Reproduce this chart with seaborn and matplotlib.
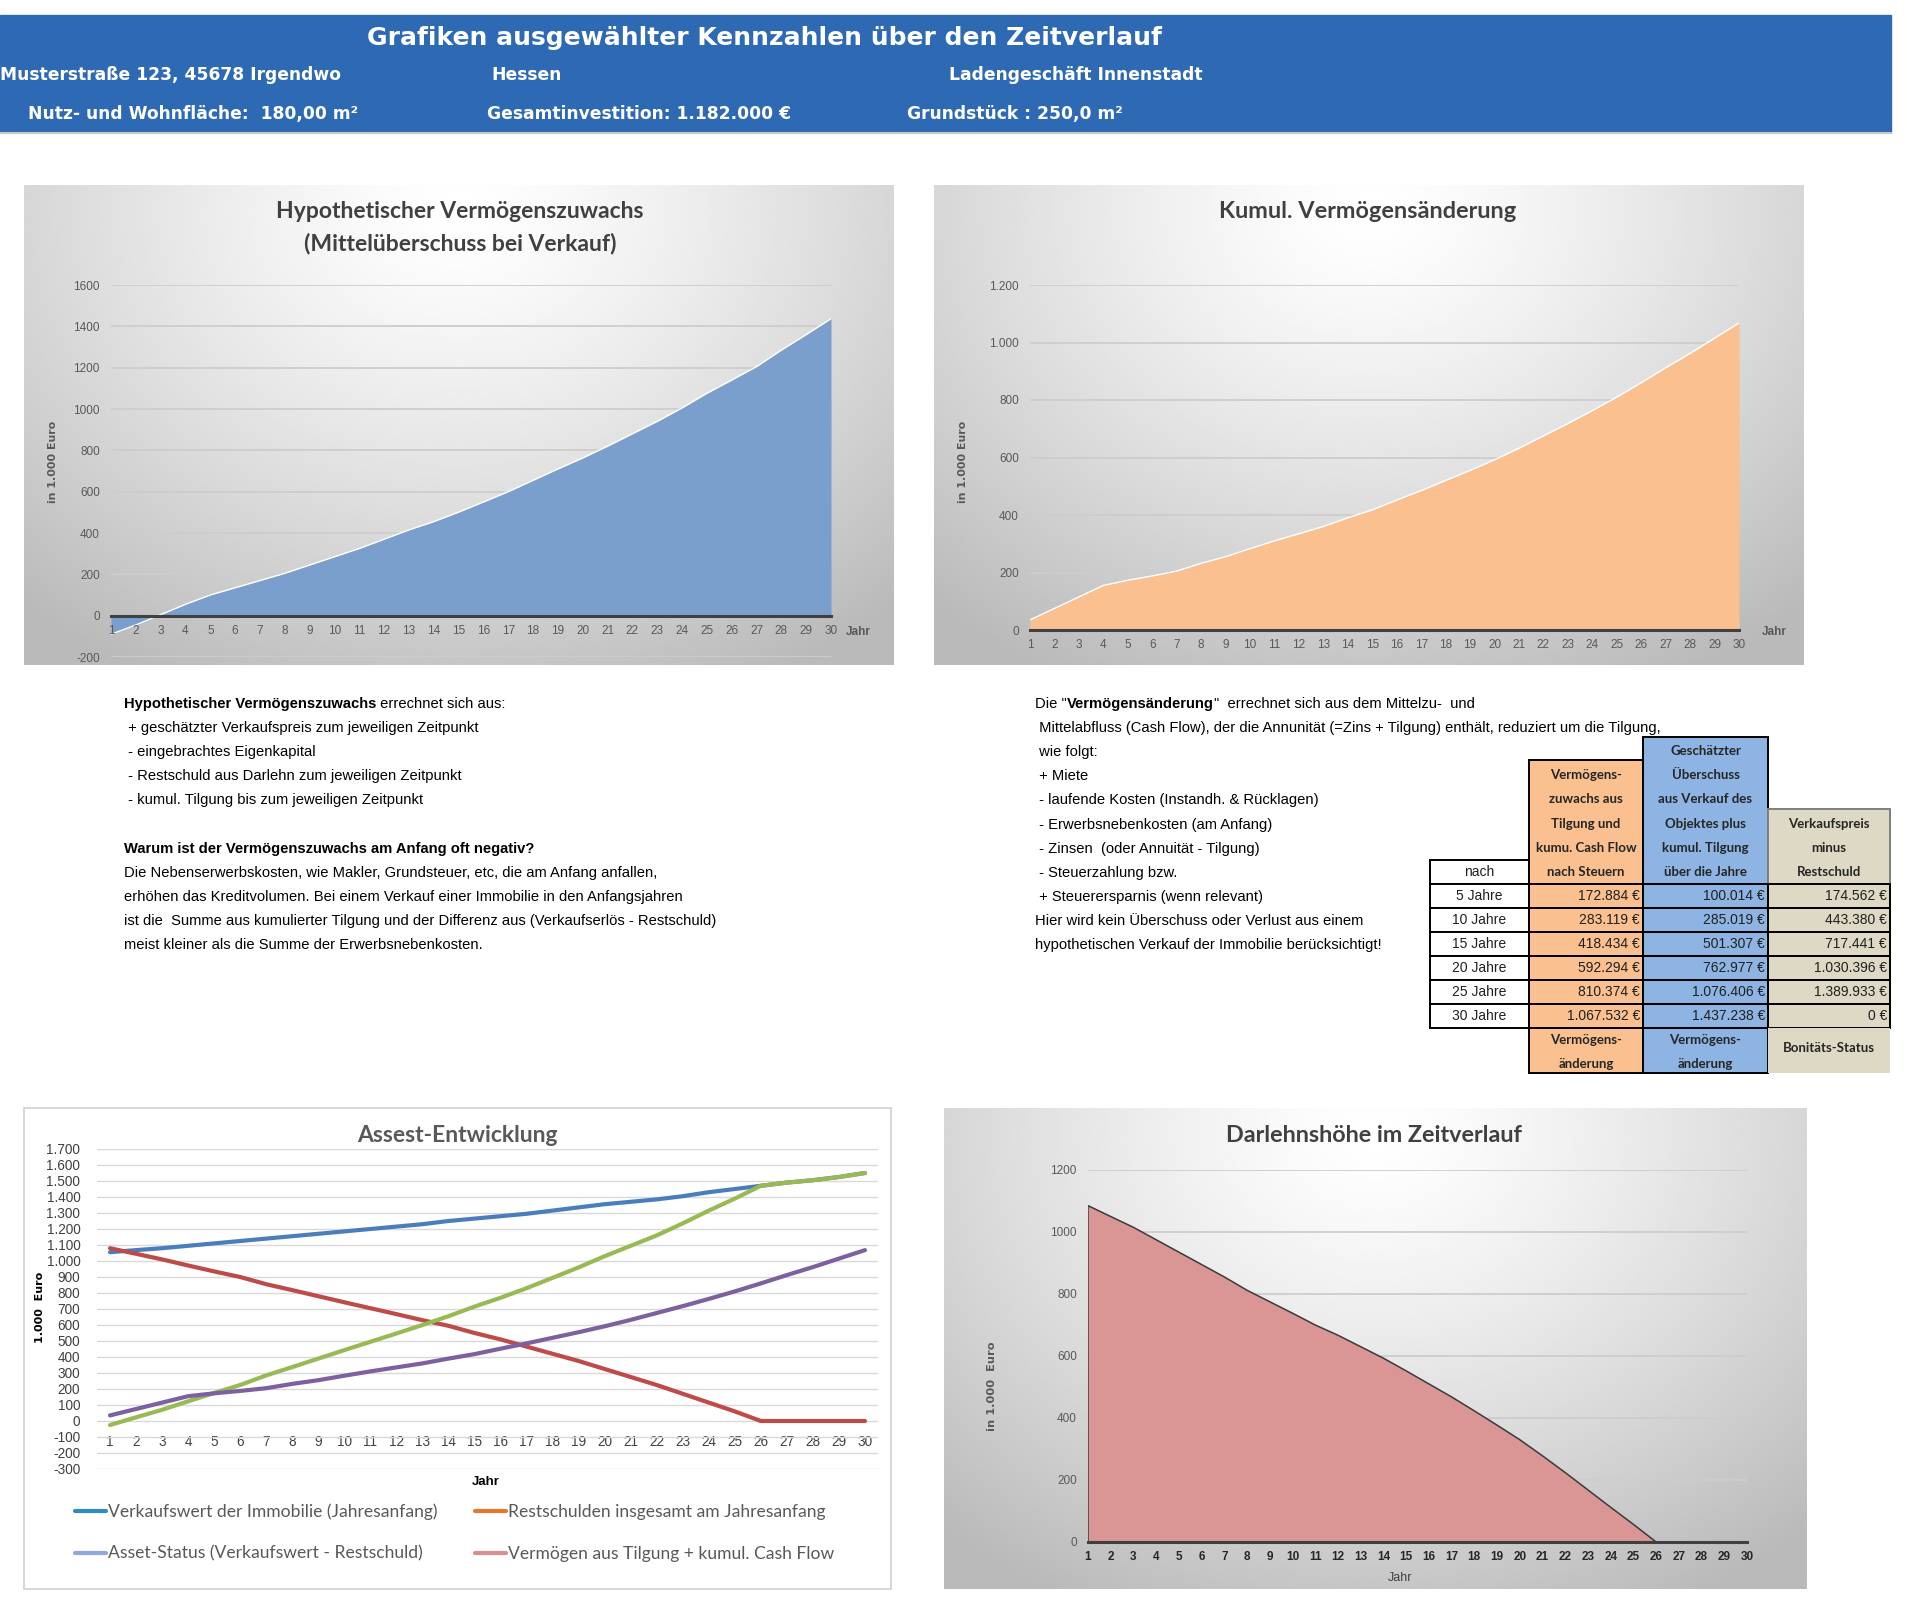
import numpy as np
import matplotlib
matplotlib.use("Agg")
import matplotlib.pyplot as plt
import seaborn as sns
from matplotlib import font_manager
from matplotlib.lines import Line2D
from matplotlib.patches import Rectangle
from matplotlib.ticker import FuncFormatter

W, H = 1907, 1612

# ---- data (in 1.000 Euro) ----
jahre = list(range(1, 31))
mittelueberschuss = [-90, -45, 5, 55, 100, 135, 170, 205, 245, 285, 325, 370, 415, 455, 501,
                     550, 600, 655, 710, 763, 820, 880, 940, 1005, 1076, 1140, 1205, 1285, 1360, 1437]
verm_aenderung = [35, 75, 115, 155, 173, 188, 205, 232, 255, 283, 310, 335, 360, 390, 418,
                  452, 485, 520, 555, 592, 632, 675, 718, 763, 810, 860, 912, 962, 1015, 1068]
verkaufswert = [1055, 1068, 1080, 1095, 1110, 1125, 1140, 1155, 1170, 1185, 1200, 1215, 1230, 1250, 1265,
                1280, 1295, 1315, 1335, 1355, 1370, 1385, 1405, 1430, 1450, 1470, 1490, 1505, 1525, 1550]
restschuld = [1080, 1045, 1010, 972, 935, 900, 855, 818, 780, 742, 705, 668, 630, 595, 550,
              510, 465, 420, 375, 325, 275, 225, 170, 115, 60, 0, 0, 0, 0, 0]
asset_status = [-25, 23, 70, 123, 175, 225, 285, 337, 390, 443, 495, 547, 600, 655, 715,
                770, 830, 895, 960, 1030, 1095, 1160, 1235, 1315, 1390, 1470, 1490, 1505, 1525, 1550]
darlehen = [1085, 1050, 1015, 975, 935, 895, 855, 812, 775, 738, 700, 667, 630, 593, 552,
            510, 468, 423, 377, 330, 278, 224, 168, 112, 57, 0, 0, 0, 0, 0]

# table (Euro)
tab_nach = ["5 Jahre", "10 Jahre", "15 Jahre", "20 Jahre", "25 Jahre", "30 Jahre"]
tab_tilgung_cf = [172884, 283119, 418434, 592294, 810374, 1067532]
tab_ueberschuss = [100014, 285019, 501307, 762977, 1076406, 1437238]
tab_verkauf_minus = [174562, 443380, 717441, 1030396, 1389933, 0]
head_orange = ["Vermögens-", "zuwachs aus", "Tilgung und", "kumu. Cash Flow", "nach Steuern"]
head_blue = ["Geschätzter", "Überschuss", "aus Verkauf des", "Objektes plus", "kumul. Tilgung", "über die Jahre"]
head_beige = ["Verkaufspreis", "minus", "Restschuld"]

legend_labels = ["Verkaufswert der Immobilie (Jahresanfang)", "Asset-Status (Verkaufswert - Restschuld)",
                 "Restschulden insgesamt am Jahresanfang", "Vermögen aus Tilgung + kumul. Cash Flow"]

text_left = [
    ("Hypothetischer Vermögenszuwachs", " errechnet sich aus:"),
    ("", " + geschätzter Verkaufspreis zum jeweiligen Zeitpunkt"),
    ("", " - eingebrachtes Eigenkapital"),
    ("", " - Restschuld aus Darlehn zum jeweiligen Zeitpunkt"),
    ("", " - kumul. Tilgung bis zum jeweiligen Zeitpunkt"),
    ("", ""),
    ("Warum ist der Vermögenszuwachs am Anfang oft negativ?", ""),
    ("", "Die Nebenserwerbskosten, wie Makler, Grundsteuer, etc, die am Anfang anfallen,"),
    ("", "erhöhen das Kreditvolumen. Bei einem Verkauf einer Immobilie in den Anfangsjahren"),
    ("", "ist die  Summe aus kumulierter Tilgung und der Differenz aus (Verkaufserlös - Restschuld)"),
    ("", "meist kleiner als die Summe der Erwerbsnebenkosten."),
]
text_right = [
    ("Die \"", "Vermögensänderung", "\"  errechnet sich aus dem Mittelzu-  und"),
    (" Mittelabfluss (Cash Flow), der die Annunität (=Zins + Tilgung) enthält, reduziert um die Tilgung,", "", ""),
    (" wie folgt:", "", ""),
    (" + Miete", "", ""),
    (" - laufende Kosten (Instandh. & Rücklagen)", "", ""),
    (" - Erwerbsnebenkosten (am Anfang)", "", ""),
    (" - Zinsen  (oder Annuität - Tilgung)", "", ""),
    (" - Steuerzahlung bzw.", "", ""),
    (" + Steuerersparnis (wenn relevant)", "", ""),
    ("Hier wird kein Überschuss oder Verlust aus einem", "", ""),
    ("hypothetischen Verkauf der Immobilie berücksichtigt!", "", ""),
]


def have(name):
    try:
        font_manager.findfont(font_manager.FontProperties(family=name), fallback_to_default=False)
        return True
    except Exception:
        return False


sns.set_theme(style="white")
plt.rcParams['font.family'] = ['Liberation Sans', 'DejaVu Sans']
plt.rcParams['axes.unicode_minus'] = False
NARROW = "Liberation Sans Narrow" if have("Liberation Sans Narrow") else "Liberation Sans"
TITLE = "Lato" if have("Lato") else "DejaVu Sans"


def px_rect(x0, y0, x1, y1):
    return [x0 / W, 1 - y1 / H, (x1 - x0) / W, (y1 - y0) / H]


def ft(x, y, s, **kw):
    return fig.text(x / W, 1 - y / H, s, **kw)


def de(v):
    return f"{v:,.0f}".replace(",", ".")


fig = plt.figure(figsize=(W / 100, H / 100), dpi=100)
fig.patch.set_facecolor("white")
cv = fig.add_axes([0, 0, 1, 1])
cv.set_xlim(0, W)
cv.set_ylim(H, 0)
cv.axis("off")
renderer = fig.canvas.get_renderer()

# ---- header ----
cv.add_patch(Rectangle((0, 15), 1891, 117, color="#2E6AB4", zorder=1))
cv.plot([0, 1891], [133, 133], color="#C8C8C8", lw=1.5)
hkw = dict(color="white", fontweight="bold", family="DejaVu Sans", va="center")
cv.text(764, 38, "Grafiken ausgewählter Kennzahlen über den Zeitverlauf", fontsize=18, ha="center", **hkw)
cv.text(0, 75, "Musterstraße 123, 45678 Irgendwo", fontsize=12.3, ha="left", **hkw)
cv.text(491, 75, "Hessen", fontsize=12.3, ha="left", **hkw)
cv.text(949, 75, "Ladengeschäft Innenstadt", fontsize=12.3, ha="left", **hkw)
cv.text(28, 114, "Nutz- und Wohnfläche:  180,00 m²", fontsize=12.3, ha="left", **hkw)
cv.text(487, 114, "Gesamtinvestition: 1.182.000 €", fontsize=12.3, ha="left", **hkw)
cv.text(907, 114, "Grundstück : 250,0 m²", fontsize=12.3, ha="left", **hkw)

# ---- text blocks ----
tkw = dict(fontsize=10.6, color="black", va="center", ha="left")
for i, (b, n) in enumerate(text_left):
    y = 704 + i * 24.1
    x = 124
    if b:
        t = cv.text(x, y, b, fontweight="bold", **tkw)
        x += t.get_window_extent(renderer=renderer).width
    if n:
        cv.text(x, y, n, **tkw)
for i, (a, b, c) in enumerate(text_right):
    y = 704 + i * 24.1
    x = 1035
    t = cv.text(x, y, a, **tkw)
    if b:
        x += t.get_window_extent(renderer=renderer).width
        t2 = cv.text(x, y, b, fontweight="bold", **tkw)
        x += t2.get_window_extent(renderer=renderer).width
        cv.text(x, y, c, **tkw)

# ---- table ----
cx = [1430, 1529, 1643, 1768, 1890]
fills = ["white", "#FAC090", "#8DB4E2", "#DDD9C4"]
head_tops = [860, 760, 737, 809]
y0, rh, yf, yfe = 884, 24, 1028, 1073
for c in range(4):
    edge = "#7F7F7F" if c == 3 else "black"
    cv.add_patch(Rectangle((cx[c], head_tops[c]), cx[c + 1] - cx[c], y0 - head_tops[c],
                           facecolor=fills[c], edgecolor=edge, lw=1.4, zorder=2))
    for i in range(len(tab_nach)):
        cv.add_patch(Rectangle((cx[c], y0 + i * rh), cx[c + 1] - cx[c], rh,
                               facecolor=fills[c], edgecolor="black", lw=1.4, zorder=2))
    if c > 0:
        cv.add_patch(Rectangle((cx[c], yf), cx[c + 1] - cx[c], yfe - yf, facecolor=fills[c],
                               edgecolor="black" if c < 3 else "none", lw=1.4, zorder=2))
hkw2 = dict(fontsize=9.5, family=TITLE, fontweight="bold", color="#262626", ha="center", va="center", zorder=3)
for c, lines in [(1, head_orange), (2, head_blue), (3, head_beige)]:
    for k, s in enumerate(lines):
        cv.text((cx[c] + cx[c + 1]) / 2, 872 - (len(lines) - 1 - k) * 24.2, s, **hkw2)
cv.text((cx[0] + cx[1]) / 2, 872, "nach", fontsize=10, color="#202020", ha="center", va="center", zorder=3)
for c in (1, 2):
    cv.text((cx[c] + cx[c + 1]) / 2, 1040, "Vermögens-", **hkw2)
    cv.text((cx[c] + cx[c + 1]) / 2, 1064, "änderung", **hkw2)
cv.text((cx[3] + cx[4]) / 2, 1048, "Bonitäts-Status", **hkw2)
vkw = dict(fontsize=10, color="#202020", va="center", zorder=3)
for i, lab in enumerate(tab_nach):
    yc = y0 + i * rh + rh / 2
    cv.text((cx[0] + cx[1]) / 2, yc, lab, ha="center", **vkw)
    for c, vals in [(1, tab_tilgung_cf), (2, tab_ueberschuss), (3, tab_verkauf_minus)]:
        cv.text(cx[c + 1] - 3, yc, de(vals[i]) + " €", ha="right", **vkw)

# chart 3 frame
cv.add_patch(Rectangle((24, 1108), 867, 481, facecolor="white", edgecolor="#D0D0D0", lw=1.2))


# ---- gradient panels ----
def panel(x0, y0_, x1, y1):
    ax = fig.add_axes(px_rect(x0, y0_, x1, y1))
    X, Y = np.meshgrid(np.linspace(0, 1, 300), np.linspace(0, 1, 200))
    r = np.sqrt(((X - 0.5) / 0.75) ** 2 + ((Y - 0.05) / 1.1) ** 2)
    v = 1 - 0.27 * np.clip(r, 0, 1) ** 1.3
    ax.imshow(v, cmap="gray", vmin=0, vmax=1, aspect="auto", interpolation="bilinear")
    ax.axis("off")


panel(24, 185, 894, 665)
panel(934, 185, 1804, 665)
panel(944, 1108, 1807, 1589)

GRID = "#CDCDCD"
TICKC = "#595959"


def style_area_axes(ax, ylim, step, fmt, xlab_kw):
    ax.set_facecolor("none")
    ax.set_axisbelow(False)
    ax.set_xlim(1, 30)
    ax.set_ylim(*ylim)
    ax.set_yticks(range(ylim[0], ylim[1] + 1, step))
    ax.yaxis.set_major_formatter(FuncFormatter(fmt))
    ax.set_xticks(jahre)
    for yv in range(ylim[0], ylim[1] + 1, step):
        if yv != 0:
            ax.axhline(yv, color=GRID, lw=1.3, zorder=0.5)
    for s in ("top", "right", "left"):
        ax.spines[s].set_visible(False)
    ax.spines["bottom"].set_position(("data", 0))
    ax.spines["bottom"].set_color("#404040")
    ax.spines["bottom"].set_linewidth(2.2)
    ax.spines["bottom"].set_zorder(4)
    ax.tick_params(axis="y", length=0, pad=8, labelsize=8.5, labelcolor=TICKC)
    ax.tick_params(axis="x", direction="inout", length=5, width=1.3, color="#404040", pad=4, **xlab_kw)
    for lab in ax.get_xticklabels() + ax.get_yticklabels():
        lab.set_family(NARROW)
    ax.set_xlabel("")
    ax.set_ylabel("")


# chart 1
ax1 = fig.add_axes(px_rect(111, 285, 831, 657))
ax1.fill_between(jahre, mittelueberschuss, 0, color="#7A9FCC", lw=0, zorder=1)
sns.lineplot(x=jahre, y=mittelueberschuss, ax=ax1, color="white", lw=1, zorder=2)
style_area_axes(ax1, (-200, 1600), 200, lambda v, p: f"{v:.0f}",
                dict(labelsize=8.5, labelcolor=TICKC))
ft(460, 212, "Hypothetischer Vermögenszuwachs", fontsize=16.5, family=TITLE, fontweight="bold",
   color="#404040", ha="center", va="center")
ft(460, 244, "(Mittelüberschuss bei Verkauf)", fontsize=16.5, family=TITLE, fontweight="bold",
   color="#404040", ha="center", va="center")
ft(53, 462, "in 1.000 Euro", rotation=90, fontsize=7.9, family="DejaVu Sans", fontweight="bold",
   color="#595959", ha="center", va="center")
ft(846, 632, "Jahr", fontsize=8.5, family=NARROW, fontweight="bold", color="#595959", ha="left", va="center")

# chart 2
ax2 = fig.add_axes(px_rect(1030, 285, 1739, 630))
ax2.fill_between(jahre, verm_aenderung, 0, color="#FAC090", lw=0, zorder=1)
sns.lineplot(x=jahre, y=verm_aenderung, ax=ax2, color="white", lw=1, zorder=2)
style_area_axes(ax2, (0, 1200), 200, lambda v, p: de(v), dict(labelsize=8.5, labelcolor=TICKC))
ft(1368, 212, "Kumul. Vermögensänderung", fontsize=16.9, family=TITLE, fontweight="bold",
   color="#404040", ha="center", va="center")
ft(963, 462, "in 1.000 Euro", rotation=90, fontsize=7.9, family="DejaVu Sans", fontweight="bold",
   color="#595959", ha="center", va="center")
ft(1762, 632, "Jahr", fontsize=8.5, family=NARROW, fontweight="bold", color="#595959", ha="left", va="center")

# chart 4
ax4 = fig.add_axes(px_rect(1088, 1170, 1747, 1542))
ax4.fill_between(jahre, darlehen, 0, color="#D99694", lw=0, zorder=1)
sns.lineplot(x=jahre, y=darlehen, ax=ax4, color="#3A3A3A", lw=1.1, zorder=2)
ax4.vlines(jahre[0], 0, darlehen[0], color="#3A3A3A", lw=1.1, zorder=2)
style_area_axes(ax4, (0, 1200), 200, lambda v, p: f"{v:.0f}",
                dict(labelsize=8.5, labelcolor="#262626"))
for lab in ax4.get_xticklabels():
    lab.set_fontweight("bold")
ft(1374, 1136, "Darlehnshöhe im Zeitverlauf", fontsize=16.8, family=TITLE, fontweight="bold",
   color="#404040", ha="center", va="center")
ft(992, 1386, "in 1.000  Euro", rotation=90, fontsize=8.2, family="DejaVu Sans", fontweight="bold",
   color="#595959", ha="center", va="center")
ft(1400, 1578, "Jahr", fontsize=9, family=NARROW, color="#404040", ha="center", va="center")

# chart 3
ax3 = fig.add_axes(px_rect(97, 1149, 878, 1469))
ax3.set_facecolor("none")
ax3.set_xlim(0.5, 30.5)
ax3.set_ylim(-300, 1700)
ax3.set_yticks(range(-300, 1701, 100))
ax3.yaxis.set_major_formatter(FuncFormatter(lambda v, p: de(v)))
ax3.set_xticks(jahre)
ax3.set_axisbelow(True)
ax3.yaxis.grid(True, color="#D9D9D9", lw=1)
for s in ax3.spines.values():
    s.set_visible(False)
ax3.spines["bottom"].set_position(("data", 0))
sns.lineplot(x=jahre, y=verkaufswert, ax=ax3, color="#4A7EBB", lw=3)
sns.lineplot(x=jahre, y=restschuld, ax=ax3, color="#BE4B48", lw=3)
sns.lineplot(x=jahre, y=asset_status, ax=ax3, color="#98B954", lw=3)
sns.lineplot(x=jahre, y=verm_aenderung, ax=ax3, color="#7D60A0", lw=3)
ax3.tick_params(axis="y", length=0, pad=12, labelsize=9.8, labelcolor="#404040")
ax3.tick_params(axis="x", length=0, pad=10, labelsize=9.8, labelcolor="#404040")
for lab in ax3.get_xticklabels() + ax3.get_yticklabels():
    lab.set_family(NARROW)
ax3.set_xlabel("")
ax3.set_ylabel("")
ft(457, 1136, "Assest-Entwicklung", fontsize=16.5, family=TITLE, fontweight="bold",
   color="#595959", ha="center", va="center")
ft(40, 1307, "1.000  Euro", rotation=90, fontsize=8, family="DejaVu Sans", fontweight="bold",
   color="black", ha="center", va="center")
ft(486, 1482, "Jahr", fontsize=9.5, family=NARROW, fontweight="bold", color="black", ha="center", va="center")
handle_colors = ["#2E8DBE", "#8EA9DB", "#E8772E", "#D88F8F"]
handles = [Line2D([0], [0], color=c, lw=3) for c in handle_colors]
ax3.legend(handles, legend_labels, ncol=2, loc="upper left", bbox_to_anchor=(66 / W, 1 - 1495 / H),
           bbox_transform=fig.transFigure, frameon=False, labelcolor="#595959",
           handlelength=1.8, handletextpad=0.12, columnspacing=2.1, labelspacing=1.45, borderpad=0,
           prop={"family": TITLE, "size": 12.6})

fig.savefig("out.png", dpi=100)
